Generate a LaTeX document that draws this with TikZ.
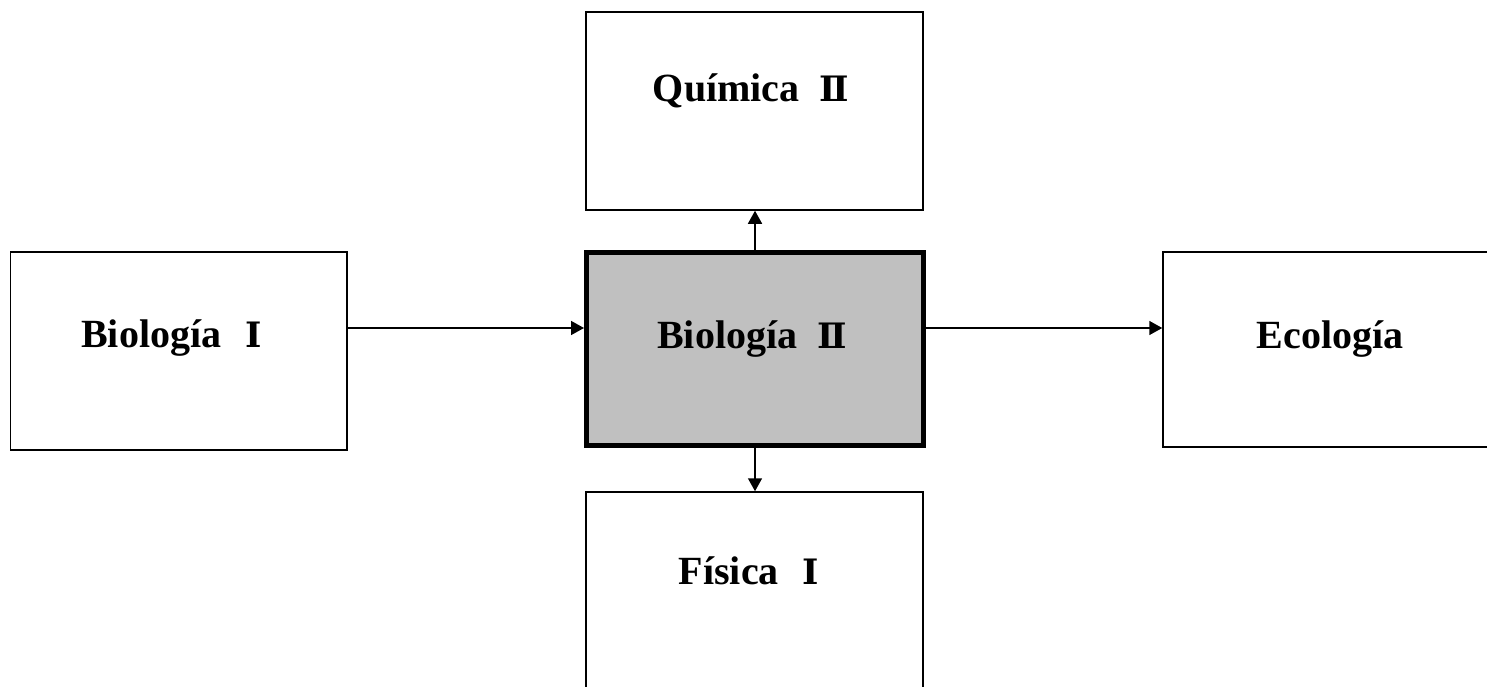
\documentclass[tikz,border=0pt]{standalone}
\usepackage{fontspec}
\setmainfont{Liberation Serif}
\newfontfamily\numfont{DejaVu Serif}
\newcommand{\rnum}[1]{{\fontsize{35}{42}\numfont\bfseries #1}}
\usetikzlibrary{arrows.meta}
\definecolor{boxgray}{RGB}{192,192,192}
\begin{document}
\begin{tikzpicture}[x=1pt,y=-1pt,
  box/.style={draw, line width=1.5pt, rectangle, inner sep=0pt},
  mainbox/.style={draw, line width=5pt, fill=boxgray, rectangle, inner sep=0pt},
  lbl/.style={anchor=base, inner sep=0pt, font=\fontsize{40}{48}\selectfont\bfseries},
  arr/.style={line width=1.5pt, -{Triangle[length=13pt,width=14pt]}}]
\clip (0,0) rectangle (1487,687);
\fill[white] (0,0) rectangle (1487,687);
% boxes
\node[box, minimum width=337pt, minimum height=198pt] (q) at (754.5,111) {};
\node[box, minimum width=336.5pt, minimum height=198pt] (b1) at (178.75,351) {};
\node[mainbox, minimum width=337pt, minimum height=193pt] (b2) at (755,349) {};
\node[box, minimum width=332pt, minimum height=195pt] (e) at (1329,349.5) {};
\node[box, minimum width=337pt, minimum height=208pt] (f) at (754.5,596) {};
% labels
\node[lbl] (qt) at (751,102) {Química\hspace{20pt}\rnum{Ⅱ}};
\node[lbl] (b1t) at (171.5,347) {Biología\hspace{24pt}\rnum{Ⅰ}};
\node[lbl] (b2t) at (752,348) {Biología\hspace{20pt}\rnum{Ⅱ}};
\node[lbl] (et) at (1330,348) {Ecología};
\node[lbl] (ft) at (749,584) {Física\hspace{24pt}\rnum{Ⅰ}};
% connectors
\coordinate (row) at (0,328);
\draw[arr] (b1.east |- row) -- (b2.west |- row);
\draw[arr] (b2.east |- row) -- (e.west |- row);
\draw[arr] (b2.north) -- (q.south -| b2.north);
\draw[arr] (b2.south) -- (f.north -| b2.south);
\end{tikzpicture}
\end{document}
